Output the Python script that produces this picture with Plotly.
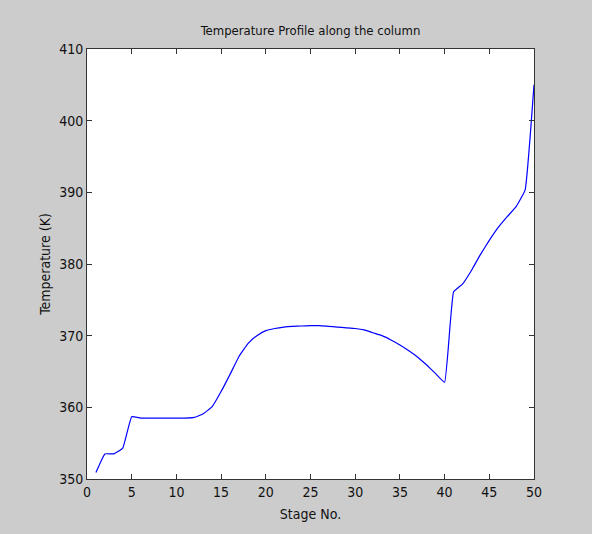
import plotly.graph_objects as go

stages = list(range(1, 51))
temperature = [
    350.9, 353.5, 353.5, 354.3, 358.7, 358.5, 358.5, 358.5, 358.5, 358.5,
    358.5, 358.6, 359.1, 360.1, 362.2, 364.6, 367.1, 368.9, 370.0, 370.7,
    371.0, 371.2, 371.3, 371.35, 371.4, 371.4, 371.3, 371.2, 371.1, 371.0,
    370.8, 370.4, 370.0, 369.4, 368.7, 367.9, 367.0, 365.9, 364.7, 363.5,
    376.1, 377.2, 379.1, 381.3, 383.3, 385.1, 386.6, 388.0, 390.3, 405.0,
]
x_ticks = [0, 5, 10, 15, 20, 25, 30, 35, 40, 45, 50]
y_ticks = [350, 360, 370, 380, 390, 400, 410]

FONT = "DejaVu Sans Condensed, Liberation Sans, Arial, sans-serif"

fig = go.Figure()
fig.add_trace(go.Scatter(x=stages, y=temperature, mode="lines", line_shape="spline",
                         line=dict(color="#0000ff", width=1.2, smoothing=0.3), showlegend=False))

axis_common = dict(showgrid=False, zeroline=False, showline=True, linecolor="#333333",
                   linewidth=1, mirror="ticks", ticks="inside", ticklen=5,
                   tickcolor="#333333", tickfont=dict(family=FONT, size=14, color="#111111"))

fig.update_layout(
    width=592, height=534,
    paper_bgcolor="#cccccc", plot_bgcolor="#ffffff",
    margin=dict(l=87, r=58, t=49, b=55),
    title=dict(text="Temperature Profile along the column", x=(87 + 534) / 2 / 592,
               xanchor="center", y=1 - 30 / 534, yanchor="middle",
               font=dict(family=FONT, size=13, color="#111111")),
    xaxis=dict(range=[0, 50], tickvals=x_ticks,
               title=dict(text="Stage No.", font=dict(family=FONT, size=14, color="#111111"), standoff=10),
               **axis_common),
    yaxis=dict(range=[350, 410], tickvals=y_ticks,
               title=dict(text="Temperature (K)", font=dict(family=FONT, size=14, color="#111111"), standoff=5),
               **axis_common),
)

fig.write_html("out.html")
